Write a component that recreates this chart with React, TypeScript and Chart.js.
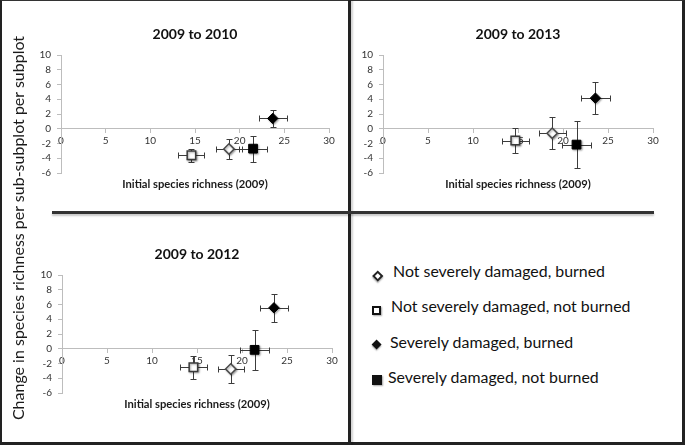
import React, { useEffect, useRef } from "react";
import { Chart, registerables } from "chart.js";

Chart.register(...registerables);

// ---------- data ----------
const categories = [
  "Not severely damaged, burned",
  "Not severely damaged, not burned",
  "Severely damaged, burned",
  "Severely damaged, not burned",
];

const xTickValues = [0, 5, 10, 15, 20, 25, 30];
const yTickValues = [-6, -4, -2, 0, 2, 4, 6, 8, 10];

const xAxisTitle = "Initial species richness (2009)";
const yAxisTitle = "Change in species richness per sub-subplot per subplot";

const panel2010X = [18.8, 14.6, 23.7, 21.5];
const panel2010Y = [-2.75, -3.6, 1.4, -2.7];
const panel2010XErr = [1.5, 1.45, 1.55, 1.55];
const panel2010YErr = [1.3, 0.9, 1.15, 1.75];

const panel2013X = [18.8, 14.7, 23.6, 21.5];
const panel2013Y = [-0.6, -1.6, 4.15, -2.15];
const panel2013XErr = [1.5, 1.5, 1.6, 1.6];
const panel2013YErr = [2.2, 1.75, 2.2, 3.15];

const panel2012X = [18.75, 14.6, 23.55, 21.4];
const panel2012Y = [-2.75, -2.5, 5.55, -0.15];
const panel2012XErr = [1.45, 1.5, 1.57, 1.6];
const panel2012YErr = [1.9, 1.55, 1.9, 2.7];

// ---------- styles ----------
const pointStyles = ["rectRot", "rect", "rectRot", "rect"];
const fills = ["#ffffff", "#ffffff", "#000000", "#000000"];
const borders = ["#4a4a4a", "#3a3a3a", "#000000", "#000000"];
const radii = [5.2, 6, 5.2, 6.2];
const FONT = "Lato, 'Open Sans', sans-serif";

const errorBarPlugin = {
  id: "errorBars",
  beforeDatasetsDraw(chart: any) {
    const { ctx } = chart;
    const xs = chart.scales.x;
    const ys = chart.scales.y;
    const cap = 3;
    ctx.save();
    ctx.strokeStyle = "#3c3c3c";
    ctx.lineWidth = 1;
    chart.data.datasets.forEach((ds: any) => {
      ds.data.forEach((p: any) => {
        const px = Math.round(xs.getPixelForValue(p.x)) + 0.5;
        const py = Math.round(ys.getPixelForValue(p.y)) + 0.5;
        const x0 = Math.round(xs.getPixelForValue(p.x - p.xErr)) + 0.5;
        const x1 = Math.round(xs.getPixelForValue(p.x + p.xErr)) + 0.5;
        const y0 = Math.round(ys.getPixelForValue(p.y - p.yErr)) + 0.5;
        const y1 = Math.round(ys.getPixelForValue(p.y + p.yErr)) + 0.5;
        ctx.beginPath();
        ctx.moveTo(x0, py);
        ctx.lineTo(x1, py);
        ctx.moveTo(x0, py - cap);
        ctx.lineTo(x0, py + cap);
        ctx.moveTo(x1, py - cap);
        ctx.lineTo(x1, py + cap);
        ctx.moveTo(px, y0);
        ctx.lineTo(px, y1);
        ctx.moveTo(px - cap, y0);
        ctx.lineTo(px + cap, y0);
        ctx.moveTo(px - cap, y1);
        ctx.lineTo(px + cap, y1);
        ctx.stroke();
      });
    });
    ctx.restore();
  },
  beforeDatasetDraw(chart: any) {
    const { ctx } = chart;
    ctx.save();
    ctx.shadowColor = "rgba(0,0,0,0.35)";
    ctx.shadowBlur = 2;
    ctx.shadowOffsetX = 1;
    ctx.shadowOffsetY = 1;
  },
  afterDatasetDraw(chart: any) {
    chart.ctx.restore();
  },
};

type PanelProps = {
  title: string;
  xs: number[];
  ys: number[];
  xErr: number[];
  yErr: number[];
  left: number;
  top: number;
  yAxisWidth: number;
  areaWidth: number;
};

const CANVAS_H = 185;
const PAD_RIGHT = 12;

function Panel(props: PanelProps) {
  const ref = useRef<HTMLCanvasElement | null>(null);
  const width = props.yAxisWidth + props.areaWidth + PAD_RIGHT;

  useEffect(() => {
    if (!ref.current) return;
    const datasets = categories.map((label, i) => ({
      label,
      data: [{ x: props.xs[i], y: props.ys[i], xErr: props.xErr[i], yErr: props.yErr[i] }],
      pointStyle: pointStyles[i],
      pointRadius: radii[i],
      pointBackgroundColor: fills[i],
      pointBorderColor: borders[i],
      pointBorderWidth: i < 2 ? 1.5 : 1,
      showLine: false,
    }));
    const tickFont = { family: FONT, size: 10 };
    const chart = new Chart(ref.current, {
      type: "scatter",
      data: { datasets },
      plugins: [errorBarPlugin],
      options: {
        animation: false,
        responsive: false,
        events: [],
        layout: { padding: { left: 0, right: PAD_RIGHT, top: 0, bottom: 0 } },
        plugins: {
          legend: { display: false },
          tooltip: { enabled: false },
          title: {
            display: true,
            text: props.title,
            fullSize: false,
            color: "#111111",
            font: { family: FONT, size: 14, weight: "bold", lineHeight: 1.2 },
            padding: { top: 11, bottom: 12.2 },
          },
          subtitle: {
            display: true,
            position: "bottom",
            text: xAxisTitle,
            fullSize: false,
            color: "#1a1a1a",
            font: { family: FONT, size: 11.2, weight: "bold", lineHeight: 1.2 },
            padding: { top: 4.5, bottom: 9.06 },
          },
        },
        scales: {
          x: {
            type: "linear",
            min: 0,
            max: 30,
            position: { y: 0 },
            afterBuildTicks: (s: any) => {
              s.ticks = xTickValues.map((v) => ({ value: v }));
            },
            ticks: { font: tickFont, color: "#333333", padding: 2, maxRotation: 0, autoSkip: false },
            grid: { drawOnChartArea: false, drawTicks: true, tickLength: 4, color: "#bdbdbd" },
            border: { display: true, color: "#bdbdbd", width: 1 },
          },
          y: {
            type: "linear",
            min: -6,
            max: 10,
            position: "left",
            afterBuildTicks: (s: any) => {
              s.ticks = yTickValues.map((v) => ({ value: v }));
            },
            afterFit: (s: any) => {
              s.width = props.yAxisWidth;
            },
            ticks: { font: tickFont, color: "#333333", padding: 6, autoSkip: false },
            grid: { drawOnChartArea: false, drawTicks: true, tickLength: 4, color: "#bdbdbd" },
            border: { display: true, color: "#bdbdbd", width: 1 },
          },
        },
      } as any,
    });
    let alive = true;
    if ((document as any).fonts) {
      Promise.all([
        (document as any).fonts.load(`bold 14px Lato`),
        (document as any).fonts.load(`10px Lato`),
      ]).then(() => {
        if (alive) chart.update();
      });
    }
    return () => {
      alive = false;
      chart.destroy();
    };
  }, []);

  return (
    <canvas
      ref={ref}
      width={width}
      height={CANVAS_H}
      style={{ position: "absolute", left: props.left, top: props.top, width, height: CANVAS_H }}
    />
  );
}

function LegendMarker({ kind }: { kind: number }) {
  const base: React.CSSProperties = {
    position: "absolute",
    boxSizing: "border-box",
    boxShadow: "1px 1px 1.5px rgba(0,0,0,0.35)",
  };
  if (kind === 0)
    return <div style={{ ...base, left: -3.5, top: -3.5, width: 7.5, height: 7.5, background: "#fff", border: "2px solid #222", transform: "rotate(45deg)" }} />;
  if (kind === 1)
    return <div style={{ ...base, left: -4.5, top: -4.5, width: 9, height: 9, background: "#fff", border: "2.2px solid #111" }} />;
  if (kind === 2)
    return <div style={{ ...base, left: -3.6, top: -3.6, width: 7.2, height: 7.2, background: "#111", transform: "rotate(45deg)" }} />;
  return <div style={{ ...base, left: -4.8, top: -4.6, width: 9.6, height: 9.2, background: "#111" }} />;
}

const legendMarkerPos = [
  [377, 275],
  [376, 310],
  [377, 345],
  [377, 380],
];
const legendTextPos = [
  [393, 271],
  [391, 306],
  [390, 342],
  [388, 377],
];

export default function App() {
  return (
    <div
      style={{
        position: "absolute",
        left: 0,
        top: 0,
        width: 685,
        height: 445,
        background: "#ffffff",
        overflow: "hidden",
        fontFamily: FONT,
      }}
    >
      <Panel title="2009 to 2010" xs={panel2010X} ys={panel2010Y} xErr={panel2010XErr} yErr={panel2010YErr} left={20} top={15} yAxisWidth={41} areaWidth={268} />
      <Panel title="2009 to 2013" xs={panel2013X} ys={panel2013Y} xErr={panel2013XErr} yErr={panel2013YErr} left={345} top={15} yAxisWidth={38} areaWidth={270} />
      <Panel title="2009 to 2012" xs={panel2012X} ys={panel2012Y} xErr={panel2012XErr} yErr={panel2012YErr} left={20} top={235} yAxisWidth={42} areaWidth={270} />

      {/* y-axis shared title */}
      <div
        style={{
          position: "absolute",
          left: 18,
          top: 228,
          transform: "translate(-50%, -50%) rotate(-90deg)",
          whiteSpace: "nowrap",
          fontSize: 16,
          color: "#1a1a1a",
          lineHeight: "18px",
        }}
      >
        {yAxisTitle}
      </div>

      {/* legend */}
      {categories.map((c, i) => (
        <React.Fragment key={c}>
          <div style={{ position: "absolute", left: legendMarkerPos[i][0], top: legendMarkerPos[i][1], width: 0, height: 0 }}>
            <LegendMarker kind={i} />
          </div>
          <div
            style={{
              position: "absolute",
              left: legendTextPos[i][0],
              top: legendTextPos[i][1] - 10,
              height: 20,
              lineHeight: "20px",
              fontSize: 15.9,
              color: "#111",
              whiteSpace: "nowrap",
            }}
          >
            {c}
          </div>
        </React.Fragment>
      ))}

      {/* frame and dividers */}
      <div
        style={{
          position: "absolute",
          left: 0,
          top: 0,
          width: 685,
          height: 445,
          boxSizing: "border-box",
          borderLeft: "2px solid #222",
          borderTop: "1px solid #333",
          borderRight: "3px solid #222",
          borderBottom: "3px solid #222",
          pointerEvents: "none",
        }}
      />
      <div style={{ position: "absolute", left: 348, top: 0, width: 3, height: 445, background: "#222", boxShadow: "2px 0 2px rgba(0,0,0,0.18)" }} />
      <div style={{ position: "absolute", left: 52, top: 211, width: 602, height: 3, background: "#333", boxShadow: "0 2px 2px rgba(0,0,0,0.22)" }} />
    </div>
  );
}
